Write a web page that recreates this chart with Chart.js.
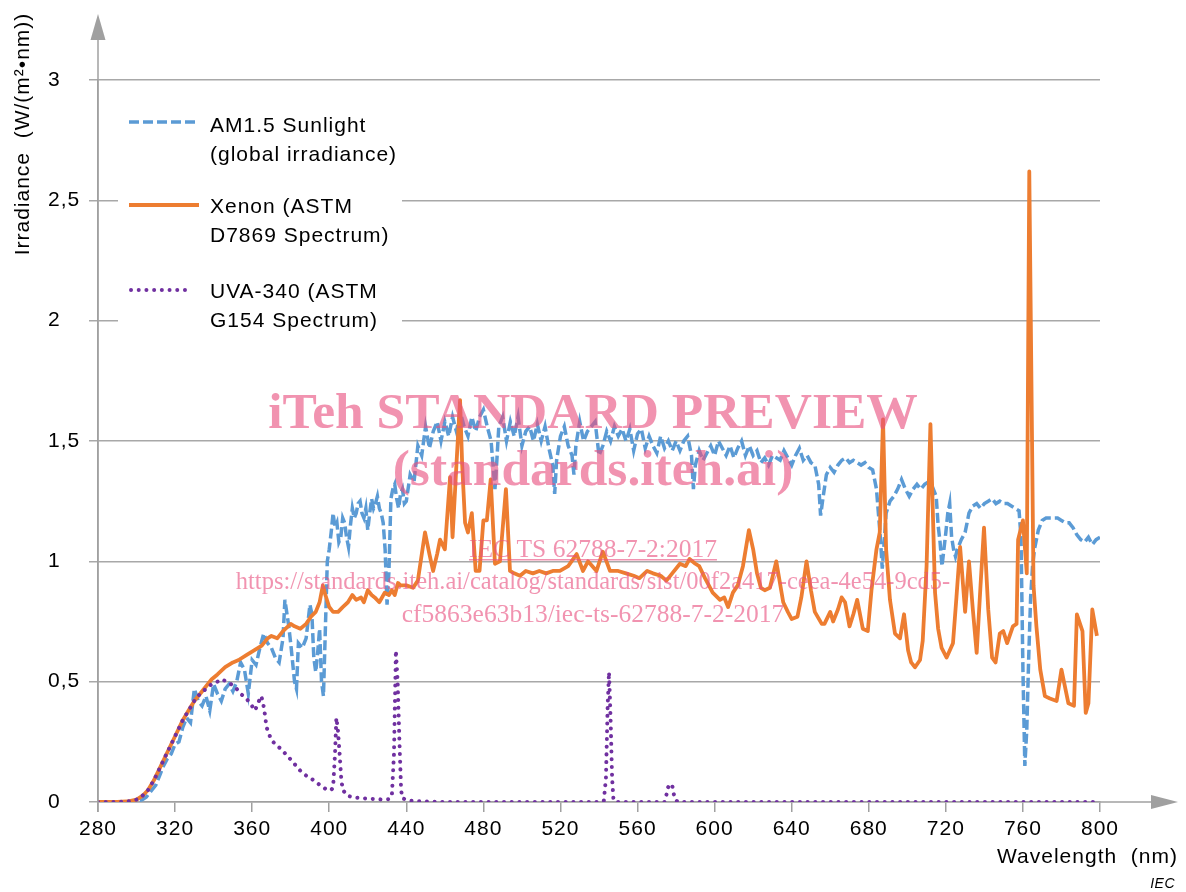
<!DOCTYPE html>
<html>
<head>
<meta charset="utf-8">
<script src="https://cdn.jsdelivr.net/npm/chart.js@4"></script>
<style>
html,body{margin:0;padding:0;background:#fff;}
#wrap{position:relative;width:1186px;height:892px;}
canvas{display:block;}
</style>
</head>
<body>
<div id="wrap"><canvas id="c" width="1186" height="892"></canvas></div>
<script>
// ---------- DATA ----------
const xTicks = [280, 320, 360, 400, 440, 480, 520, 560, 600, 640, 680, 720, 760, 800];
const yTicks = [0, 0.5, 1, 1.5, 2, 2.5, 3];
const yTickLabels = ['0', '0,5', '1', '1,5', '2', '2,5', '3'];

const seriesNames = [
  ['AM1.5 Sunlight', '(global irradiance)'],
  ['Xenon (ASTM', 'D7869 Spectrum)'],
  ['UVA-340 (ASTM', 'G154 Spectrum)']
];

// AM1.5 Sunlight (global irradiance): [wavelength nm, irradiance]
const sunPoints = [
[280,0],[285,0],[290,0],[295,0],[300,0.002],[303,0.01],[305,0.02],[308,0.05],[310,0.07],[312,0.11],[314,0.15],[316,0.18],[318,0.2],[320,0.24],
[322,0.25],[324,0.31],[326,0.35],[328,0.33],[330,0.47],[332,0.42],[334,0.4],[336,0.44],[338,0.38],[340,0.49],[342,0.45],[344,0.42],[346,0.47],
[348,0.49],[350,0.46],[352,0.5],[354,0.58],[356,0.55],[358,0.45],[360,0.59],[362,0.57],[364,0.64],[366,0.7],[368,0.66],[370,0.64],[372,0.6],
[374,0.58],[376,0.68],[377,0.84],[379,0.73],[380,0.66],[382,0.5],[383,0.47],[384,0.66],[386,0.64],[388,0.68],[390,0.82],[391,0.78],[392,0.6],
[393,0.54],[394,0.62],[395,0.72],[396,0.5],[397,0.44],[398,0.72],[399,1.0],[400,1.05],[401,1.12],[402,1.2],[403,1.14],[404,1.16],[405,1.08],
[406,1.1],[407,1.18],[408,1.16],[409,1.1],[410,1.06],[411,1.15],[412,1.22],[413,1.18],[414,1.2],[415,1.24],[416,1.25],[417,1.2],[418,1.18],
[419,1.22],[420,1.13],[421,1.2],[422,1.26],[423,1.22],[424,1.24],[425,1.27],[426,1.22],[427,1.2],[428,1.16],[429,1.05],[430,0.82],[431,0.96],
[432,1.26],[433,1.3],[434,1.32],[435,1.26],[436,1.22],[437,1.28],[438,1.3],[439,1.24],[440,1.25],[442,1.36],[444,1.33],[446,1.48],[448,1.44],
[450,1.56],[452,1.47],[454,1.54],[456,1.58],[458,1.5],[460,1.58],[462,1.52],[464,1.6],[466,1.54],[468,1.62],[470,1.56],[472,1.52],[474,1.6],
[476,1.54],[478,1.6],[480,1.63],[482,1.56],[484,1.5],[486,1.3],[487,1.42],[488,1.56],[490,1.6],[492,1.5],[494,1.58],[496,1.52],[498,1.6],
[500,1.48],[502,1.54],[504,1.56],[506,1.5],[508,1.57],[510,1.5],[512,1.56],[514,1.47],[516,1.4],[517,1.28],[518,1.42],[520,1.52],[522,1.56],
[524,1.48],[526,1.44],[527,1.36],[528,1.48],[530,1.58],[532,1.5],[534,1.54],[536,1.56],[538,1.58],[540,1.44],[542,1.48],[544,1.54],[546,1.5],
[548,1.56],[550,1.52],[552,1.55],[554,1.5],[556,1.55],[558,1.46],[560,1.53],[562,1.55],[564,1.47],[566,1.52],[568,1.48],[570,1.45],[572,1.52],
[574,1.47],[576,1.5],[578,1.46],[580,1.5],[582,1.46],[584,1.5],[586,1.52],[588,1.44],[589,1.3],[590,1.4],[592,1.46],[594,1.42],[596,1.45],
[598,1.48],[600,1.44],[602,1.5],[604,1.47],[606,1.44],[608,1.48],[610,1.43],[612,1.47],[614,1.5],[616,1.44],[618,1.48],[620,1.44],[622,1.46],
[624,1.41],[626,1.43],[628,1.4],[630,1.44],[632,1.43],[634,1.42],[636,1.46],[638,1.43],[640,1.4],[642,1.44],[644,1.47],[646,1.42],[648,1.44],
[650,1.41],[652,1.4],[653,1.36],[654,1.32],[655,1.19],[656,1.25],[658,1.36],[660,1.39],[662,1.37],[664,1.4],[666,1.42],[668,1.43],[670,1.41],
[672,1.42],[674,1.41],[676,1.4],[678,1.41],[680,1.39],[682,1.38],[684,1.3],[686,1.1],[687,0.97],[688,1.08],[689,1.2],[691,1.25],[693,1.27],
[695,1.3],[697,1.34],[699,1.3],[701,1.27],[703,1.3],[705,1.32],[707,1.3],[709,1.32],[711,1.33],[713,1.31],[715,1.27],[716,1.15],[717,1.08],
[718,0.98],[719,1.05],[720,1.12],[721,1.2],[722,1.24],[723,1.1],[724,1.05],[725,1.02],[726,1.05],[728,1.09],[730,1.12],[731,1.16],[732,1.2],
[734,1.23],[736,1.24],[738,1.22],[740,1.24],[742,1.25],[744,1.26],[746,1.24],[748,1.25],[750,1.24],[752,1.24],[754,1.23],[756,1.22],[758,1.21],
[759,1.1],[760,0.55],[761,0.15],[762,0.3],[763,0.6],[764,0.85],[765,0.98],[766,1.05],[767,1.09],[768,1.13],[770,1.17],[772,1.18],[774,1.18],
[776,1.18],[778,1.18],[780,1.17],[782,1.16],[784,1.16],[786,1.14],[788,1.11],[790,1.09],[792,1.08],[794,1.1],[796,1.07],[798,1.09],[800,1.1]
];

// Xenon (ASTM D7869 spectrum): [wavelength nm, irradiance]
const xenonPoints = [
[280,0],[290,0],[295,0.002],[300,0.01],[303,0.025],[306,0.05],[309,0.09],[312,0.14],[315,0.19],[318,0.24],[321,0.29],[324,0.34],[327,0.38],
[330,0.42],[333,0.45],[336,0.48],[339,0.51],[342,0.53],[346,0.56],[350,0.58],[353,0.59],[357,0.61],[361,0.63],[365,0.65],[368,0.68],[370,0.69],
[373,0.68],[376,0.71],[380,0.74],[382,0.73],[385,0.72],[388,0.74],[390.5,0.77],[393,0.79],[395,0.83],[396.7,0.9],[398,0.86],[400,0.81],[402,0.79],
[404.6,0.79],[407,0.81],[409.7,0.83],[412,0.86],[414,0.84],[416.5,0.85],[418,0.83],[420,0.88],[422,0.86],[423.6,0.85],[426,0.83],[428.8,0.87],
[431,0.86],[432.5,0.88],[434,0.86],[435.7,0.91],[437,0.9],[440,0.9],[443.5,0.89],[446,0.92],[449.7,1.12],[452,1.03],[453.9,0.96],[456,1.03],
[457.5,1.09],[460,1.05],[462.7,1.35],[464,1.1],[466,1.4],[467.9,1.67],[469,1.4],[470.5,1.16],[472,1.12],[474,1.2],[476,0.96],[478,0.96],
[480,1.17],[481.8,1.17],[483.8,1.34],[486,0.99],[488.6,1.0],[491.7,1.3],[493.8,0.96],[496,0.95],[499,0.94],[502,0.96],[505.7,0.95],[509,0.96],
[512.6,0.95],[516,0.96],[519.7,0.96],[524,0.98],[528.4,1.03],[531.7,0.96],[534.3,1.0],[538.7,0.96],[542,1.04],[545.7,0.96],[550,0.96],[554,0.95],
[558,0.94],[561,0.93],[565,0.96],[568,0.95],[572,0.94],[575,0.92],[578,0.95],[582,0.99],[585,0.98],[587,1.01],[590,0.99],[592,0.98],[595,0.93],
[599,0.87],[602.8,0.84],[605,0.85],[607,0.81],[609.5,0.87],[612,0.9],[614.7,0.98],[617.8,1.13],[620,1.05],[622,0.95],[624,0.89],[626,0.88],
[628.7,0.89],[632,1.0],[635.6,0.83],[638,0.79],[640,0.76],[643,0.77],[645,0.85],[647.7,1.0],[650,0.88],[652,0.79],[655.6,0.74],[657,0.74],
[660,0.79],[661.5,0.75],[664,0.8],[665.9,0.85],[667.7,0.83],[670,0.73],[672,0.78],[674,0.84],[676.9,0.72],[679.5,0.71],[681.4,0.88],[684,1.05],
[685.7,1.12],[687.4,1.59],[689,1.05],[691,0.84],[693.6,0.7],[696.2,0.68],[698.3,0.78],[700.4,0.63],[702,0.58],[704,0.56],[706.6,0.59],[708,0.67],
[710,0.98],[712,1.57],[714.4,0.87],[716,0.72],[717.8,0.64],[720.4,0.6],[723.7,0.66],[725.5,0.85],[727.4,1.06],[730,0.79],[732,1.0],[734,0.8],
[736,0.62],[738,0.9],[739.8,1.14],[742,0.8],[744,0.6],[745.8,0.58],[748,0.7],[749.8,0.71],[751.8,0.66],[754.8,0.73],[756.7,0.74],[757.5,1.09],
[760,1.17],[762,0.95],[763.3,2.62],[765.5,0.9],[767,0.73],[769,0.55],[771.4,0.44],[774,0.43],[777.5,0.42],[780,0.55],[783.6,0.41],[786.5,0.4],
[788,0.78],[790.9,0.71],[792.6,0.37],[794,0.41],[796,0.8],[798.4,0.69]
];

// UVA-340 (ASTM G154 spectrum): [wavelength nm, irradiance]
const uvaPoints = [
[280,0],[290,0],[295,0.002],[298,0.005],[300,0.01],[303,0.025],[306,0.05],[309,0.09],[312,0.14],[315,0.19],[318,0.24],[321,0.29],[324,0.34],
[327,0.38],[330,0.42],[333,0.45],[336,0.47],[339,0.49],[342,0.5],[344,0.51],[347,0.5],[349,0.49],[352,0.47],[354,0.45],[357,0.43],[359,0.41],
[361.5,0.38],[363,0.41],[364.6,0.44],[365.5,0.42],[366.5,0.37],[367.5,0.31],[369.8,0.26],[372,0.24],[375,0.22],[379.6,0.18],[385,0.13],[388,0.11],
[392,0.09],[396,0.065],[399,0.05],[401,0.05],[402,0.06],[403,0.2],[403.7,0.35],[404.5,0.3],[405.4,0.2],[406.2,0.1],[407,0.05],[409.7,0.025],
[414,0.018],[418,0.015],[424,0.012],[428.7,0.01],[431,0.012],[432.5,0.025],[433.6,0.2],[434.6,0.63],[435.5,0.5],[436.4,0.26],[437.3,0.05],
[438,0.015],[442,0.005],[450,0.002],[460,0],[540,0],[542.5,0.005],[543.6,0.1],[544.5,0.4],[545.2,0.54],[546,0.35],[546.8,0.1],[547.5,0.01],
[548.5,0],[574,0],[575,0.03],[575.8,0.06],[577,0.075],[578,0.07],[578.6,0.04],[579.5,0.01],[581,0],[800,0]
];

// ---------- STYLE ----------
const C_SUN = '#5B9BD5', C_XE = '#ED7D31', C_UVA = '#7030A0';
const AXIS = '#a0a0a0', GRID = '#a8a8a8';
const SANS = '"Liberation Sans", Arial, sans-serif';
const SERIF = '"Liberation Serif", "Times New Roman", serif';
const toXY = pts => pts.map(p => ({x: p[0], y: p[1]}));

Chart.defaults.font.family = SANS;
Chart.defaults.color = '#000';

const decor = {
  id: 'decor',
  beforeDraw(chart) { chart.ctx.letterSpacing = '1px'; },
  beforeDatasetsDraw(chart) {
    const ctx = chart.ctx;
    ctx.save();
    ctx.fillStyle = '#fff';
    ctx.fillRect(118, 100, 284, 240);
    const samples = [
      {y: 122, color: C_SUN, dash: [10, 4], cap: 'butt', x0: 129, x1: 199, w: 3.5},
      {y: 205, color: C_XE, dash: [], cap: 'butt', x0: 129, x1: 199, w: 3.8},
      {y: 290, color: C_UVA, dash: [0.01, 7.7], cap: 'round', x0: 131, x1: 192, w: 4}
    ];
    const base = [132, 213, 298];
    samples.forEach((s, i) => {
      ctx.beginPath();
      ctx.strokeStyle = s.color; ctx.lineWidth = s.w;
      ctx.setLineDash(s.dash); ctx.lineCap = s.cap;
      ctx.moveTo(s.x0, s.y); ctx.lineTo(s.x1, s.y); ctx.stroke();
      ctx.setLineDash([]);
      ctx.fillStyle = '#000';
      ctx.font = '21px ' + SANS;
      ctx.letterSpacing = '1px';
      ctx.textAlign = 'left'; ctx.textBaseline = 'alphabetic';
      ctx.fillText(seriesNames[i][0], 210, base[i]);
      ctx.fillText(seriesNames[i][1], 210, base[i] + 28.5);
    });
    ctx.restore();
  },
  afterDraw(chart) {
    const ctx = chart.ctx, a = chart.chartArea;
    ctx.save();
    ctx.strokeStyle = AXIS; ctx.fillStyle = AXIS; ctx.lineWidth = 1.5;
    ctx.beginPath(); ctx.moveTo(a.left, a.bottom + 10); ctx.lineTo(a.left, 38); ctx.stroke();
    ctx.beginPath(); ctx.moveTo(a.left, 14); ctx.lineTo(a.left - 7.5, 40); ctx.lineTo(a.left + 7.5, 40); ctx.closePath(); ctx.fill();
    ctx.beginPath(); ctx.moveTo(a.right, a.bottom); ctx.lineTo(1153, a.bottom); ctx.stroke();
    ctx.beginPath(); ctx.moveTo(1178, a.bottom); ctx.lineTo(1151, a.bottom - 7); ctx.lineTo(1151, a.bottom + 7); ctx.closePath(); ctx.fill();
    ctx.fillStyle = '#000';
    ctx.font = '21px ' + SANS; ctx.letterSpacing = '1px';
    ctx.save();
    ctx.translate(29, 134); ctx.rotate(-Math.PI / 2);
    ctx.textAlign = 'center'; ctx.textBaseline = 'alphabetic';
    ctx.fillText('Irradiance  (W/(m\u00B2\u2022nm))', 0, 0);
    ctx.restore();
    ctx.textAlign = 'right'; ctx.textBaseline = 'alphabetic';
    ctx.fillText('Wavelength  (nm)', 1178, 863);
    ctx.font = 'italic 14px ' + SANS; ctx.letterSpacing = '0.5px';
    ctx.fillText('IEC', 1175, 888);
    // watermark
    ctx.letterSpacing = '0px';
    ctx.fillStyle = 'rgba(232,80,128,0.62)';
    ctx.textAlign = 'center';
    const cx = 593;
    ctx.font = 'bold 51.5px ' + SERIF;
    ctx.fillText('iTeh STANDARD PREVIEW', cx, 428);
    ctx.fillText('(standards.iteh.ai)', cx, 485);
    ctx.font = '25.5px ' + SERIF;
    const t3 = 'IEC TS 62788-7-2:2017';
    ctx.fillText(t3, cx, 557);
    const w3 = ctx.measureText(t3).width;
    ctx.fillRect(cx - w3 / 2, 559, w3, 1.5);
    ctx.font = '24.5px ' + SERIF;
    ctx.fillText('https://standards.iteh.ai/catalog/standards/sist/00f2a417-ceea-4e54-9cd5-', cx, 589);
    ctx.font = '25.5px ' + SERIF;
    ctx.fillText('cf5863e63b13/iec-ts-62788-7-2-2017', cx, 622);
    ctx.restore();
  }
};

new Chart(document.getElementById('c'), {
  type: 'line',
  data: {
    datasets: [
      {label: seriesNames[0].join(' '), data: toXY(sunPoints), borderColor: C_SUN, borderWidth: 3.5,
       borderDash: [10, 4], borderCapStyle: 'butt', order: 3},
      {label: seriesNames[1].join(' '), data: toXY(xenonPoints), borderColor: C_XE, borderWidth: 3.8,
       borderJoinStyle: 'round', order: 2},
      {label: seriesNames[2].join(' '), data: toXY(uvaPoints), borderColor: C_UVA, borderWidth: 4,
       borderDash: [0.01, 7.7], borderCapStyle: 'round', order: 1}
    ]
  },
  options: {
    responsive: false,
    animation: false,
    layout: {padding: {left: 48, right: 86, top: 80, bottom: 50}},
    elements: {point: {radius: 0}, line: {tension: 0, fill: false}},
    plugins: {legend: {display: false}, tooltip: {enabled: false}},
    scales: {
      x: {
        type: 'linear', min: xTicks[0], max: xTicks[xTicks.length - 1],
        afterBuildTicks: s => { s.ticks = xTicks.map(v => ({value: v})); },
        ticks: {font: {size: 21}, color: '#000', padding: 5, maxRotation: 0, autoSkip: false,
                callback: v => String(v)},
        grid: {drawOnChartArea: false, drawTicks: true, tickLength: 10, color: AXIS, lineWidth: 1.5},
        border: {display: true, color: AXIS, width: 1.5},
        afterFit: s => { s.height = 40; }
      },
      y: {
        min: yTicks[0], max: yTicks[yTicks.length - 1],
        afterBuildTicks: s => { s.ticks = yTicks.map(v => ({value: v})); },
        ticks: {font: {size: 21}, color: '#000', crossAlign: 'far', autoSkip: false,
                callback: (v) => yTickLabels[yTicks.indexOf(v)]},
        grid: {color: GRID, lineWidth: 1.5, tickLength: 9, drawTicks: true},
        border: {display: true, color: AXIS, width: 1.5},
        afterFit: s => { s.width = 50; }
      }
    }
  },
  plugins: [decor]
});
</script>
</body>
</html>
